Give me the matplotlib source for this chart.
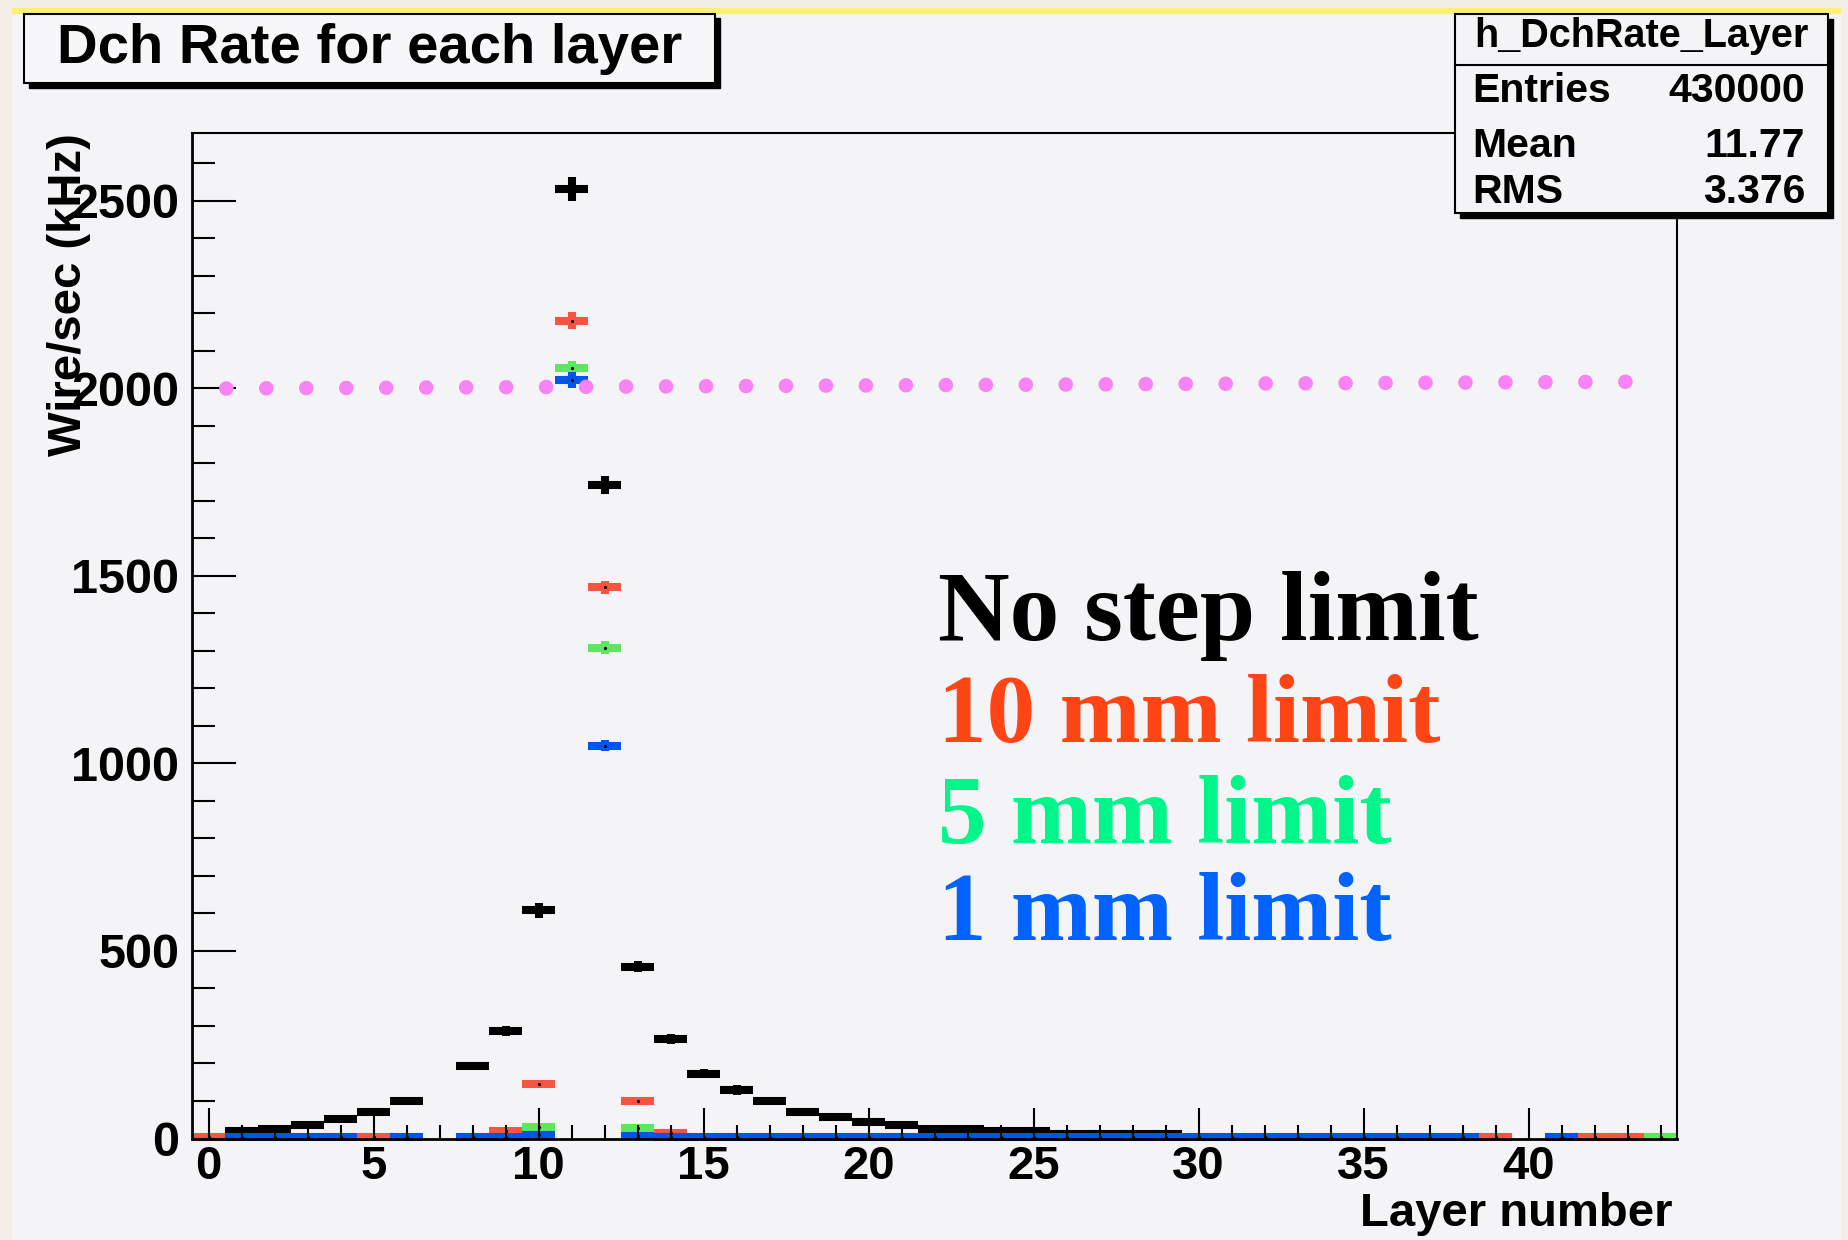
import matplotlib
matplotlib.use("Agg")
import matplotlib.pyplot as plt
from matplotlib.patches import Rectangle
from matplotlib.ticker import MultipleLocator
import numpy as np

plt.rcParams["font.family"] = ["Liberation Sans", "DejaVu Sans"]

W, H = 1848, 1240

# Layer index (bin centres) and rate per layer (kHz)
layers = list(range(45))

rate_nolimit = [0, 20, 26, 37, 51, 71, 100, 0, 193, 287,
                608, 2530, 1742, 458, 265, 173, 130, 100, 71, 57,
                44, 36, 24, 24, 20, 20, 13, 13, 13, 13,
                0, 0, 0, 0, 0, 0, 0, 0, 0, 0,
                0, 0, 0, 0, 0]
err_nolimit = [0, 4, 4, 5, 6, 7, 8, 0, 10, 13,
               19, 32, 25, 14, 13, 13, 13, 8, 7, 6,
               5, 4, 4, 4, 4, 4, 3, 3, 3, 3,
               0, 0, 0, 0, 0, 0, 0, 0, 0, 0,
               0, 0, 0, 0, 0]

rate_10mm = [3, 0, 0, 0, 0, 3, 0, 0, 0, 19,
             144, 2180, 1469, 100, 15, 0, 0, 0, 0, 0,
             0, 0, 0, 0, 0, 0, 0, 0, 0, 0,
             0, 0, 0, 0, 0, 0, 0, 0, 0, 3,
             0, 0, 3, 3, 0]
err_10mm = [0] * 11 + [22, 18] + [0] * 32

rate_5mm = [0] * 10 + [30, 2054, 1308, 27] + [0] * 30 + [3]
err_5mm = [0] * 11 + [18, 17] + [0] * 32

rate_1mm = [0, 3, 3, 3, 3, 0, 3, 0, 3, 3,
            8, 2022, 1047, 6, 3, 3, 3, 3, 3, 3,
            3, 3, 3, 3, 3, 3, 3, 3, 3, 3,
            3, 3, 3, 3, 3, 3, 3, 3, 3, 0,
            0, 3, 0, 0, 0]
err_1mm = [0] * 11 + [21, 14] + [0] * 32

# hand-drawn 2 MHz reference line
threshold_x = [0.54, 43.06]
threshold_y = [1999, 2017]

stats_rows = [("Entries", "430000"), ("Mean", "11.77"), ("RMS", "3.376")]
labels = ["No step limit", "10 mm limit", "5 mm limit", "1 mm limit"]

BLACK = "#000000"
RED = "#f55541"
GREEN = "#5ee65e"
BLUE = "#0055eb"
TEXT_COLORS = ["#000000", "#ff4516", "#00f58a", "#0062ff"]
TEXT_SIZES = [71.5, 70, 70, 70]
BAR_LW = 5.8


def fx(px):
    return px / W


def fy(py):
    return 1 - py / H


def draw_hist(ax, values, errors, color, dots):
    x = np.asarray(layers, dtype=float)
    y = np.asarray(values, dtype=float)
    e = np.asarray(errors, dtype=float)
    m = y > 0
    ax.hlines(y[m], x[m] - 0.5, x[m] + 0.5, colors=color, lw=BAR_LW,
              capstyle="butt", clip_on=False, zorder=2)
    me = e > 0
    ax.vlines(x[me], y[me] - e[me], y[me] + e[me], colors=color, lw=BAR_LW,
              capstyle="butt", clip_on=False, zorder=2)
    if dots:
        ax.plot(x[m], y[m], "o", color="k", ms=2.3, mew=0, clip_on=False, zorder=3)


fig = plt.figure(figsize=(W / 100, H / 100), dpi=100, facecolor="#f3efe6")

# ROOT canvas on the slide
fig.add_artist(Rectangle((fx(12), fy(1240)), fx(1840) - fx(12), fy(8) - fy(1240),
                         transform=fig.transFigure, color="#f4f3f6", zorder=-2))
fig.add_artist(Rectangle((fx(12), fy(13)), fx(1840) - fx(12), fy(8) - fy(13),
                         transform=fig.transFigure, color="#fbef7a", zorder=-1))

ax = fig.add_axes([fx(192), fy(1138.5), fx(1677) - fx(192), fy(133) - fy(1138.5)])
ax.set_facecolor("#f4f3f6")
ax.set_axisbelow(False)

draw_hist(ax, rate_nolimit, err_nolimit, BLACK, False)
draw_hist(ax, rate_10mm, err_10mm, RED, True)
draw_hist(ax, rate_5mm, err_5mm, GREEN, True)
draw_hist(ax, rate_1mm, err_1mm, BLUE, True)

ax.plot(threshold_x, threshold_y, color="#f883f5", lw=10.5,
        linestyle=(0, (0.001, 2.74)), dash_capstyle="round", zorder=4)

ax.set_xlim(-0.5, 44.5)
ax.set_ylim(0, 2680)
ax.xaxis.set_major_locator(MultipleLocator(5))
ax.xaxis.set_minor_locator(MultipleLocator(1))
ax.yaxis.set_major_locator(MultipleLocator(500))
ax.yaxis.set_minor_locator(MultipleLocator(100))
ax.tick_params(axis="x", which="major", direction="in", length=22, width=1.5,
               labelsize=34, pad=5)
ax.tick_params(axis="x", which="minor", direction="in", length=10, width=1.5)
ax.tick_params(axis="y", which="major", direction="in", length=32, width=1.5,
               labelsize=35, pad=9)
ax.tick_params(axis="y", which="minor", direction="in", length=16.5, width=1.5)
for lab in ax.get_xticklabels() + ax.get_yticklabels():
    lab.set_fontweight("bold")
for side in ("left", "bottom"):
    ax.spines[side].set_linewidth(2)
for side in ("top", "right"):
    ax.spines[side].set_linewidth(1.5)

fig.text(fx(1673), fy(1226), "Layer number", ha="right", va="baseline",
         fontsize=34, weight="bold")
# as in the original ROOT canvas, the y title sits over the tick labels
fig.text(fx(69), fy(133), "Wire/sec (kHz)", ha="center", va="top",
         rotation=90, fontsize=34, weight="bold")

# title box with shadow
fig.add_artist(Rectangle((fx(29), fy(88)), fx(720) - fx(29), fy(18) - fy(88),
                         transform=fig.transFigure, color="k", zorder=5))
fig.add_artist(Rectangle((fx(24), fy(83)), fx(715) - fx(24), fy(14) - fy(83),
                         transform=fig.transFigure, facecolor="#f7f7f9",
                         edgecolor="k", lw=1.5, zorder=5))
fig.text(fx(370), fy(63), "Dch Rate for each layer", ha="center", va="baseline",
         fontsize=40.5, weight="bold", zorder=6)

# stats box
fig.add_artist(Rectangle((fx(1460), fy(218)), fx(1833) - fx(1460), fy(19) - fy(218),
                         transform=fig.transFigure, color="k", zorder=5))
fig.add_artist(Rectangle((fx(1455), fy(213)), fx(1828) - fx(1455), fy(14) - fy(213),
                         transform=fig.transFigure, facecolor="#f4f3f6",
                         edgecolor="k", lw=1.5, zorder=5))
fig.add_artist(plt.Line2D([fx(1455), fx(1828)], [fy(65), fy(65)],
                          transform=fig.transFigure, color="k", lw=1.5, zorder=6))
fig.text(fx(1641), fy(47), "h_DchRate_Layer", ha="center", va="baseline",
         fontsize=28.5, weight="bold", zorder=6)
for (name, val), base in zip(stats_rows, [102, 157, 203]):
    fig.text(fx(1472), fy(base), name, ha="left", va="baseline",
             fontsize=29.5, weight="bold", zorder=6)
    fig.text(fx(1805), fy(base), val, ha="right", va="baseline",
             fontsize=29.5, weight="bold", zorder=6)

# legend-like annotations
for text, col, size, base in zip(labels, TEXT_COLORS, TEXT_SIZES, [640, 742, 843, 940]):
    fig.text(fx(938), fy(base), text, ha="left", va="baseline", color=col,
             fontsize=size, weight="bold", family=["Liberation Serif", "DejaVu Serif"])

fig.savefig("out.png", dpi=100, facecolor=fig.get_facecolor())
